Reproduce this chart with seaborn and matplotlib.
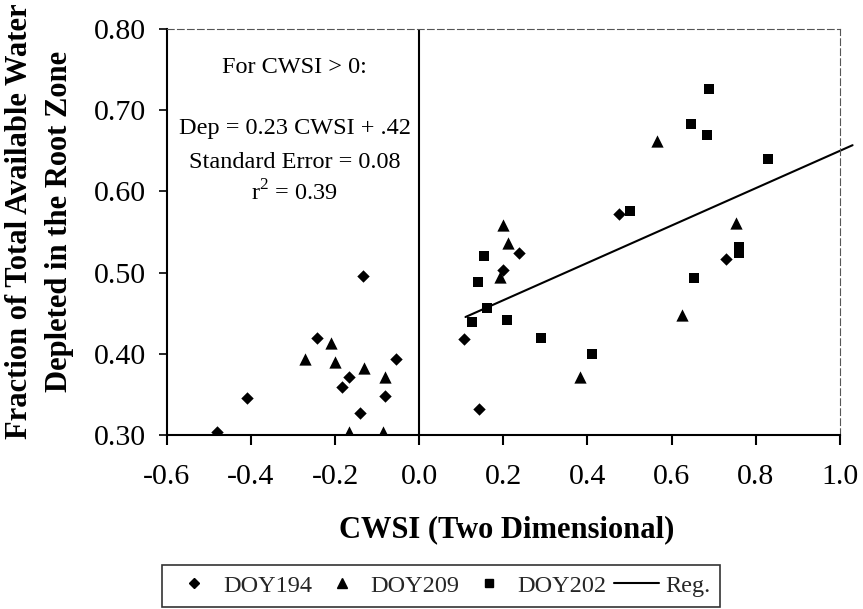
import matplotlib
matplotlib.use("Agg")
import matplotlib.pyplot as plt
from matplotlib.lines import Line2D
from matplotlib.legend_handler import HandlerLine2D
import seaborn as sns
import pandas as pd
import numpy as np

# ---- data ----
doy194_x = [-0.481, -0.410, -0.133, -0.242, -0.167, -0.184, -0.054, -0.081, -0.141,
            0.474, 0.237, 0.198, 0.106, 0.141, 0.728]
doy194_y = [0.304, 0.346, 0.496, 0.420, 0.371, 0.359, 0.394, 0.348, 0.327,
            0.572, 0.524, 0.503, 0.418, 0.332, 0.517]

doy209_x = [-0.210, -0.271, -0.199, -0.130, -0.081, -0.166, -0.086,
            0.564, 0.198, 0.210, 0.192, 0.382, 0.752, 0.625]
doy209_y = [0.413, 0.394, 0.390, 0.382, 0.371, 0.304, 0.304,
            0.662, 0.559, 0.537, 0.494, 0.372, 0.561, 0.448]

doy202_x = [0.689, 0.647, 0.683, 0.829, 0.500, 0.154, 0.139, 0.162, 0.125, 0.209,
            0.289, 0.410, 0.761, 0.761, 0.653]
doy202_y = [0.726, 0.683, 0.669, 0.640, 0.576, 0.520, 0.488, 0.456, 0.439, 0.442,
            0.419, 0.400, 0.532, 0.524, 0.493]

reg_slope = 0.23
reg_intercept = 0.42
reg_x = [0.11, 1.03]

x_ticks = [-0.6, -0.4, -0.2, 0.0, 0.2, 0.4, 0.6, 0.8, 1.0]
y_ticks = [0.30, 0.40, 0.50, 0.60, 0.70, 0.80]

series_labels = ["DOY194", "DOY209", "DOY202"]
annot_lines = ["For CWSI > 0:", "Dep = 0.23 CWSI + .42", "Standard Error = 0.08", "r$^2$ = 0.39"]

# ---- figure ----
sns.set_theme(style="white")
plt.rcParams['font.family'] = ['Liberation Serif', 'DejaVu Serif']
plt.rcParams['mathtext.fontset'] = 'custom'
plt.rcParams['mathtext.rm'] = 'Liberation Serif'

fig = plt.figure(figsize=(8.63, 6.09), dpi=100)
ax = fig.add_axes([0.1932, 0.2857, 0.7801, 0.6667])

df = pd.concat([
    pd.DataFrame({"x": doy194_x, "y": doy194_y, "DOY": series_labels[0]}),
    pd.DataFrame({"x": doy209_x, "y": doy209_y, "DOY": series_labels[1]}),
    pd.DataFrame({"x": doy202_x, "y": doy202_y, "DOY": series_labels[2]}),
])

marker_map = {"DOY194": "D", "DOY209": "^", "DOY202": "s"}
size_map = {"DOY194": 40, "DOY209": 78, "DOY202": 62}
for lab in series_labels:
    sns.scatterplot(data=df[df.DOY == lab], x="x", y="y", marker=marker_map[lab],
                    s=size_map[lab], color="black", edgecolor="black", linewidth=0,
                    ax=ax, legend=False, zorder=3)

rx = np.array(reg_x)
ax.plot(rx, reg_slope * rx + reg_intercept, color="black", lw=1.5, clip_on=False, zorder=2)

ax.axvline(0.0, color="black", lw=1.5, zorder=1)

ax.set_xlim(-0.6, 1.0)
ax.set_ylim(0.30, 0.80)
ax.set_xticks(x_ticks)
ax.set_xticklabels([f"{t:.1f}" for t in x_ticks])
ax.set_yticks(y_ticks)
ax.set_yticklabels([f"{t:.2f}" for t in y_ticks])
ax.tick_params(axis="both", direction="out", labelsize=21.5, colors="black")
ax.tick_params(axis="x", length=7, width=1.5, pad=14, bottom=True)
ax.tick_params(axis="y", length=6, width=1.2, pad=9, left=True)

for side in ["left", "bottom"]:
    ax.spines[side].set_color("black")
    ax.spines[side].set_linewidth(1.5)
for side in ["top", "right"]:
    ax.spines[side].set_color("#555555")
    ax.spines[side].set_linewidth(0.8)
    ax.spines[side].set_linestyle((0, (6, 3)))

ax.set_xlabel("CWSI (Two Dimensional)", fontsize=22, fontweight="bold", color="black")
ax.set_ylabel("Fraction of Total Available Water\nDepleted in the Root Zone",
              fontsize=22, fontweight="bold", color="black", linespacing=1.5)
ax.xaxis.set_label_coords(0.505, -0.197)
ax.yaxis.set_label_coords(-0.138, 0.527)

annot_y = [0.904, 0.756, 0.672, 0.596]
for t, yy in zip(annot_lines, annot_y):
    ax.text(0.19, yy, t, transform=ax.transAxes, ha="center", va="center",
            fontsize=17.5, color="black")

handles = [
    Line2D([], [], marker="D", color="black", linestyle="none", markersize=5.5),
    Line2D([], [], marker="^", color="black", linestyle="none", markersize=7.5),
    Line2D([], [], marker="s", color="black", linestyle="none", markersize=6.0),
    Line2D([], [], color="black", lw=1.5),
]
leg = fig.legend(handles, series_labels + ["Reg."], loc="center", ncol=4,
                 bbox_to_anchor=(0.511, 0.038), fontsize=17.5, frameon=True,
                 fancybox=False, edgecolor="black", handlelength=1.85,
                 handletextpad=0.25, columnspacing=0.3, borderpad=0.4,
                 handler_map={Line2D: HandlerLine2D(numpoints=1)})
leg.get_frame().set_linewidth(1.2)

fig.savefig("out.png", dpi=100)
